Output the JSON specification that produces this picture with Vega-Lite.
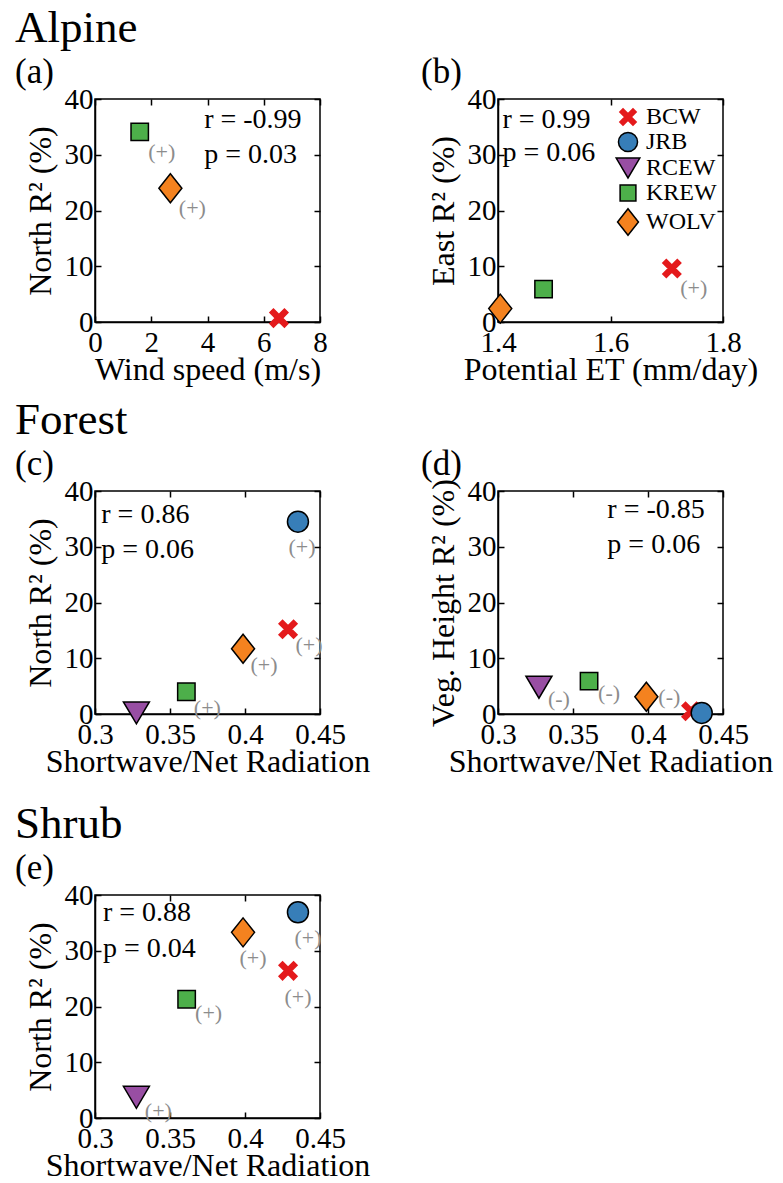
{
  "$schema": "https://vega.github.io/schema/vega-lite/v6.json",
  "padding": {"left": 14, "top": 4, "right": 0, "bottom": 0},
  "background": "white",
  "datasets": {
    "alpine_north": [
      {"site": "BCW", "wind_speed": 6.54, "r2": 0.7, "sign": null},
      {"site": "KREW", "wind_speed": 1.59, "r2": 34.1, "sign": "(+)"},
      {"site": "WOLV", "wind_speed": 2.68, "r2": 24.0, "sign": "(+)"}
    ],
    "alpine_east": [
      {"site": "BCW", "pet": 1.709, "r2": 9.6, "sign": "(+)"},
      {"site": "KREW", "pet": 1.481, "r2": 5.9, "sign": null},
      {"site": "WOLV", "pet": 1.404, "r2": 2.4, "sign": null}
    ],
    "forest_north": [
      {"site": "BCW", "sw_net": 0.4287, "r2": 15.2, "sign": "(+)"},
      {"site": "JRB", "sw_net": 0.4353, "r2": 34.5, "sign": "(+)"},
      {"site": "RCEW", "sw_net": 0.3276, "r2": 0.2, "sign": null},
      {"site": "KREW", "sw_net": 0.3609, "r2": 4.0, "sign": "(+)"},
      {"site": "WOLV", "sw_net": 0.3987, "r2": 11.7, "sign": "(+)"}
    ],
    "forest_veg": [
      {"site": "BCW", "sw_net": 0.4287, "r2": 0.5, "sign": null},
      {"site": "JRB", "sw_net": 0.4358, "r2": 0.2, "sign": null},
      {"site": "RCEW", "sw_net": 0.3273, "r2": 4.8, "sign": "(-)"},
      {"site": "KREW", "sw_net": 0.3607, "r2": 5.9, "sign": "(-)"},
      {"site": "WOLV", "sw_net": 0.3989, "r2": 3.1, "sign": "(-)"}
    ],
    "shrub_north": [
      {"site": "BCW", "sw_net": 0.4287, "r2": 26.4, "sign": "(+)"},
      {"site": "JRB", "sw_net": 0.4353, "r2": 36.9, "sign": "(+)"},
      {"site": "RCEW", "sw_net": 0.3276, "r2": 3.7, "sign": "(+)"},
      {"site": "KREW", "sw_net": 0.3611, "r2": 21.3, "sign": "(+)"},
      {"site": "WOLV", "sw_net": 0.3987, "r2": 33.3, "sign": "(+)"}
    ]
  },
  "config": {
    "font": "Liberation Serif, Times New Roman, serif",
    "view": {"stroke": "black", "strokeWidth": 1.5},
    "text": {"font": "Liberation Serif, Times New Roman, serif", "fontWeight": "normal"},
    "axis": {
      "grid": false, "domainColor": "black", "domainWidth": 1.5,
      "tickColor": "black", "tickWidth": 1.5, "tickSize": -6,
      "labelFont": "Liberation Serif, Times New Roman, serif", "labelFontSize": 29, "labelColor": "black", "labelFontWeight": "normal",
      "labelFlush": false, "labelOverlap": false, "labelBound": false,
      "titleFont": "Liberation Serif, Times New Roman, serif", "titleFontSize": 32, "titleFontWeight": "normal", "titleColor": "black"
    },
    "axisX": {"labelPadding": 12, "titlePadding": -3},
    "axisY": {"labelPadding": 8, "titlePadding": 7},
    "title": {
      "anchor": "start", "frame": "group", "font": "Liberation Serif, Times New Roman, serif", "fontSize": 45, "fontWeight": "normal", "color": "black",
      "subtitleFont": "Liberation Serif, Times New Roman, serif", "subtitleFontSize": 35, "subtitleFontWeight": "normal", "subtitleColor": "black", "subtitlePadding": 4, "offset": -4.5
    },
    "legend": {
      "labelFont": "Liberation Serif, Times New Roman, serif", "labelFontSize": 24, "labelColor": "black", "labelFontWeight": "normal",
      "symbolSize": 330, "symbolStrokeWidth": 1.5, "rowPadding": 0, "labelOffset": 6, "padding": 0
    }
  },
  "spacing": 22,
  "vconcat": [
    {
      "columns": 2,
      "bounds": "flush",
      "spacing": {"row": 169, "column": 178},
      "resolve": {"scale": {"fill": "independent", "shape": "independent", "stroke": "independent"}, "legend": {"fill": "independent", "shape": "independent", "stroke": "independent"}},
      "concat": [
        {
          "width": 225, "height": 223,
          "title": {"text": "Alpine", "subtitle": "(a)", "dx": -80},
          "data": {"name": "alpine_north"},
          "resolve": {"axis": {"x": "independent", "y": "independent"}},
          "layer": [
            {
              "mark": {"type": "point", "filled": true, "size": 400, "strokeWidth": 1.5, "opacity": 1},
              "encoding": {
                "x": {"field": "wind_speed", "type": "quantitative", "scale": {"domain": [0, 8], "nice": false}, "axis": {"values": [0, 2, 4, 6, 8], "title": "Wind speed (m/s)"}},
                "y": {"field": "r2", "type": "quantitative", "scale": {"domain": [0, 40], "nice": false}, "axis": {"values": [0, 10, 20, 30, 40], "title": "North R² (%)"}},
                "shape": {"field": "site", "type": "nominal", "scale": {"domain": ["BCW", "JRB", "RCEW", "KREW", "WOLV"], "range": ["M-0.9,-0.55L-0.55,-0.9L0,-0.35L0.55,-0.9L0.9,-0.55L0.35,0L0.9,0.55L0.55,0.9L0,0.35L-0.55,0.9L-0.9,0.55L-0.35,0Z", "M-1.05,0A1.05,1.05,0,1,0,1.05,0A1.05,1.05,0,1,0,-1.05,0Z", "M-1.3,-1.1L1.3,-1.1L0,1.1Z", "M-0.87,-0.87L0.87,-0.87L0.87,0.87L-0.87,0.87Z", "M0,-1.45L1.15,0L0,1.45L-1.15,0Z"]}, "legend": null},
                "fill": {"field": "site", "type": "nominal", "scale": {"domain": ["BCW", "JRB", "RCEW", "KREW", "WOLV"], "range": ["#e41a1c", "#377eb8", "#984ea3", "#4daf4a", "#f4821f"]}, "legend": null},
                "stroke": {"field": "site", "type": "nominal", "scale": {"domain": ["BCW", "JRB", "RCEW", "KREW", "WOLV"], "range": ["#e41a1c", "#000000", "#000000", "#000000", "#000000"]}, "legend": null}
              }
            },
            {
              "transform": [{"filter": {"field": "site", "oneOf": ["KREW", "WOLV"]}}],
              "mark": {"type": "text", "fontSize": 22, "fontWeight": "normal", "color": "#8c8c8c", "dx": 22, "dy": 20},
              "encoding": {
                "x": {"field": "wind_speed", "type": "quantitative", "axis": {"orient": "top", "labels": false, "title": null, "domain": false, "values": [0, 2, 4, 6, 8]}},
                "y": {"field": "r2", "type": "quantitative", "axis": {"orient": "right", "labels": false, "title": null, "domain": false, "values": [0, 10, 20, 30, 40]}},
                "text": {"field": "sign"}
              }
            },
            {
              "data": {"values": [{}]},
              "mark": {"type": "text", "fontSize": 28, "fontWeight": "normal", "align": "left", "baseline": "middle", "text": "r = -0.99"},
              "encoding": {"x": {"datum": 3.88, "type": "quantitative", "axis": null}, "y": {"datum": 36.2, "type": "quantitative", "axis": null}}
            },
            {
              "data": {"values": [{}]},
              "mark": {"type": "text", "fontSize": 28, "fontWeight": "normal", "align": "left", "baseline": "middle", "text": "p = 0.03"},
              "encoding": {"x": {"datum": 3.88, "type": "quantitative", "axis": null}, "y": {"datum": 29.9, "type": "quantitative", "axis": null}}
            }
          ]
        },
        {
          "width": 225, "height": 223,
          "title": {"text": " ", "subtitle": "(b)", "dx": -77},
          "data": {"name": "alpine_east"},
          "resolve": {"axis": {"x": "independent", "y": "independent"}},
          "layer": [
            {
              "mark": {"type": "point", "filled": true, "size": 400, "strokeWidth": 1.5, "opacity": 1},
              "encoding": {
                "x": {"field": "pet", "type": "quantitative", "scale": {"domain": [1.4, 1.8], "nice": false, "zero": false}, "axis": {"values": [1.4, 1.6, 1.8], "format": "~g", "title": "Potential ET (mm/day)"}},
                "y": {"field": "r2", "type": "quantitative", "scale": {"domain": [0, 40], "nice": false}, "axis": {"values": [0, 10, 20, 30, 40], "title": "East R² (%)"}},
                "shape": {"field": "site", "type": "nominal", "scale": {"domain": ["BCW", "JRB", "RCEW", "KREW", "WOLV"], "range": ["M-0.9,-0.55L-0.55,-0.9L0,-0.35L0.55,-0.9L0.9,-0.55L0.35,0L0.9,0.55L0.55,0.9L0,0.35L-0.55,0.9L-0.9,0.55L-0.35,0Z", "M-1.05,0A1.05,1.05,0,1,0,1.05,0A1.05,1.05,0,1,0,-1.05,0Z", "M-1.3,-1.1L1.3,-1.1L0,1.1Z", "M-0.87,-0.87L0.87,-0.87L0.87,0.87L-0.87,0.87Z", "M0,-1.45L1.15,0L0,1.45L-1.15,0Z"]}, "legend": {"orient": "top-right", "offset": 6, "title": null}},
                "fill": {"field": "site", "type": "nominal", "scale": {"domain": ["BCW", "JRB", "RCEW", "KREW", "WOLV"], "range": ["#e41a1c", "#377eb8", "#984ea3", "#4daf4a", "#f4821f"]}, "legend": {"orient": "top-right", "offset": 6, "title": null}},
                "stroke": {"field": "site", "type": "nominal", "scale": {"domain": ["BCW", "JRB", "RCEW", "KREW", "WOLV"], "range": ["#e41a1c", "#000000", "#000000", "#000000", "#000000"]}, "legend": {"orient": "top-right", "offset": 6, "title": null}}
              }
            },
            {
              "transform": [{"filter": {"field": "site", "oneOf": ["BCW"]}}],
              "mark": {"type": "text", "fontSize": 22, "fontWeight": "normal", "color": "#8c8c8c", "dx": 22, "dy": 20},
              "encoding": {
                "x": {"field": "pet", "type": "quantitative", "axis": {"orient": "top", "labels": false, "title": null, "domain": false, "values": [1.4, 1.6, 1.8]}},
                "y": {"field": "r2", "type": "quantitative", "axis": {"orient": "right", "labels": false, "title": null, "domain": false, "values": [0, 10, 20, 30, 40]}},
                "text": {"field": "sign"}
              }
            },
            {
              "data": {"values": [{}]},
              "mark": {"type": "text", "fontSize": 28, "fontWeight": "normal", "align": "left", "baseline": "middle", "text": "r = 0.99"},
              "encoding": {"x": {"datum": 1.408, "type": "quantitative", "axis": null}, "y": {"datum": 36.2, "type": "quantitative", "axis": null}}
            },
            {
              "data": {"values": [{}]},
              "mark": {"type": "text", "fontSize": 28, "fontWeight": "normal", "align": "left", "baseline": "middle", "text": "p = 0.06"},
              "encoding": {"x": {"datum": 1.408, "type": "quantitative", "axis": null}, "y": {"datum": 30.4, "type": "quantitative", "axis": null}}
            }
          ]
        },
        {
          "width": 225, "height": 223,
          "title": {"text": "Forest", "subtitle": "(c)", "dx": -80},
          "data": {"name": "forest_north"},
          "resolve": {"axis": {"x": "independent", "y": "independent"}},
          "layer": [
            {
              "mark": {"type": "point", "filled": true, "size": 400, "strokeWidth": 1.5, "opacity": 1},
              "encoding": {
                "x": {"field": "sw_net", "type": "quantitative", "scale": {"domain": [0.3, 0.45], "nice": false, "zero": false}, "axis": {"values": [0.3, 0.35, 0.4, 0.45], "format": "~g", "title": "Shortwave/Net Radiation"}},
                "y": {"field": "r2", "type": "quantitative", "scale": {"domain": [0, 40], "nice": false}, "axis": {"values": [0, 10, 20, 30, 40], "title": "North R² (%)"}},
                "shape": {"field": "site", "type": "nominal", "scale": {"domain": ["BCW", "JRB", "RCEW", "KREW", "WOLV"], "range": ["M-0.9,-0.55L-0.55,-0.9L0,-0.35L0.55,-0.9L0.9,-0.55L0.35,0L0.9,0.55L0.55,0.9L0,0.35L-0.55,0.9L-0.9,0.55L-0.35,0Z", "M-1.05,0A1.05,1.05,0,1,0,1.05,0A1.05,1.05,0,1,0,-1.05,0Z", "M-1.3,-1.1L1.3,-1.1L0,1.1Z", "M-0.87,-0.87L0.87,-0.87L0.87,0.87L-0.87,0.87Z", "M0,-1.45L1.15,0L0,1.45L-1.15,0Z"]}, "legend": null},
                "fill": {"field": "site", "type": "nominal", "scale": {"domain": ["BCW", "JRB", "RCEW", "KREW", "WOLV"], "range": ["#e41a1c", "#377eb8", "#984ea3", "#4daf4a", "#f4821f"]}, "legend": null},
                "stroke": {"field": "site", "type": "nominal", "scale": {"domain": ["BCW", "JRB", "RCEW", "KREW", "WOLV"], "range": ["#e41a1c", "#000000", "#000000", "#000000", "#000000"]}, "legend": null}
              }
            },
            {
              "transform": [{"filter": {"field": "site", "oneOf": ["KREW", "WOLV", "BCW"]}}],
              "mark": {"type": "text", "fontSize": 22, "fontWeight": "normal", "color": "#8c8c8c", "dx": 21, "dy": 16},
              "encoding": {
                "x": {"field": "sw_net", "type": "quantitative", "axis": {"orient": "top", "labels": false, "title": null, "domain": false, "values": [0.3, 0.35, 0.4, 0.45]}},
                "y": {"field": "r2", "type": "quantitative", "axis": {"orient": "right", "labels": false, "title": null, "domain": false, "values": [0, 10, 20, 30, 40]}},
                "text": {"field": "sign"}
              }
            },
            {
              "transform": [{"filter": {"field": "site", "oneOf": ["JRB"]}}],
              "mark": {"type": "text", "fontSize": 22, "fontWeight": "normal", "color": "#8c8c8c", "dx": 4, "dy": 25},
              "encoding": {
                "x": {"field": "sw_net", "type": "quantitative", "axis": null},
                "y": {"field": "r2", "type": "quantitative", "axis": null},
                "text": {"field": "sign"}
              }
            },
            {
              "data": {"values": [{}]},
              "mark": {"type": "text", "fontSize": 28, "fontWeight": "normal", "align": "left", "baseline": "middle", "text": "r = 0.86"},
              "encoding": {"x": {"datum": 0.3042, "type": "quantitative", "axis": null}, "y": {"datum": 35.7, "type": "quantitative", "axis": null}}
            },
            {
              "data": {"values": [{}]},
              "mark": {"type": "text", "fontSize": 28, "fontWeight": "normal", "align": "left", "baseline": "middle", "text": "p = 0.06"},
              "encoding": {"x": {"datum": 0.3042, "type": "quantitative", "axis": null}, "y": {"datum": 29.5, "type": "quantitative", "axis": null}}
            }
          ]
        },
        {
          "width": 225, "height": 223,
          "title": {"text": " ", "subtitle": "(d)", "dx": -77},
          "data": {"name": "forest_veg"},
          "resolve": {"axis": {"x": "independent", "y": "independent"}},
          "layer": [
            {
              "mark": {"type": "point", "filled": true, "size": 400, "strokeWidth": 1.5, "opacity": 1},
              "encoding": {
                "x": {"field": "sw_net", "type": "quantitative", "scale": {"domain": [0.3, 0.45], "nice": false, "zero": false}, "axis": {"values": [0.3, 0.35, 0.4, 0.45], "format": "~g", "title": "Shortwave/Net Radiation"}},
                "y": {"field": "r2", "type": "quantitative", "scale": {"domain": [0, 40], "nice": false}, "axis": {"values": [0, 10, 20, 30, 40], "title": "Veg. Height R² (%)"}},
                "shape": {"field": "site", "type": "nominal", "scale": {"domain": ["BCW", "JRB", "RCEW", "KREW", "WOLV"], "range": ["M-0.9,-0.55L-0.55,-0.9L0,-0.35L0.55,-0.9L0.9,-0.55L0.35,0L0.9,0.55L0.55,0.9L0,0.35L-0.55,0.9L-0.9,0.55L-0.35,0Z", "M-1.05,0A1.05,1.05,0,1,0,1.05,0A1.05,1.05,0,1,0,-1.05,0Z", "M-1.3,-1.1L1.3,-1.1L0,1.1Z", "M-0.87,-0.87L0.87,-0.87L0.87,0.87L-0.87,0.87Z", "M0,-1.45L1.15,0L0,1.45L-1.15,0Z"]}, "legend": null},
                "fill": {"field": "site", "type": "nominal", "scale": {"domain": ["BCW", "JRB", "RCEW", "KREW", "WOLV"], "range": ["#e41a1c", "#377eb8", "#984ea3", "#4daf4a", "#f4821f"]}, "legend": null},
                "stroke": {"field": "site", "type": "nominal", "scale": {"domain": ["BCW", "JRB", "RCEW", "KREW", "WOLV"], "range": ["#e41a1c", "#000000", "#000000", "#000000", "#000000"]}, "legend": null}
              }
            },
            {
              "transform": [{"filter": {"field": "site", "oneOf": ["RCEW", "KREW"]}}],
              "mark": {"type": "text", "fontSize": 22, "fontWeight": "normal", "color": "#8c8c8c", "dx": 20, "dy": 12},
              "encoding": {
                "x": {"field": "sw_net", "type": "quantitative", "axis": {"orient": "top", "labels": false, "title": null, "domain": false, "values": [0.3, 0.35, 0.4, 0.45]}},
                "y": {"field": "r2", "type": "quantitative", "axis": {"orient": "right", "labels": false, "title": null, "domain": false, "values": [0, 10, 20, 30, 40]}},
                "text": {"field": "sign"}
              }
            },
            {
              "transform": [{"filter": {"field": "site", "oneOf": ["WOLV"]}}],
              "mark": {"type": "text", "fontSize": 22, "fontWeight": "normal", "color": "#8c8c8c", "dx": 23, "dy": 0},
              "encoding": {
                "x": {"field": "sw_net", "type": "quantitative", "axis": null},
                "y": {"field": "r2", "type": "quantitative", "axis": null},
                "text": {"field": "sign"}
              }
            },
            {
              "data": {"values": [{}]},
              "mark": {"type": "text", "fontSize": 28, "fontWeight": "normal", "align": "left", "baseline": "middle", "text": "r = -0.85"},
              "encoding": {"x": {"datum": 0.3729, "type": "quantitative", "axis": null}, "y": {"datum": 36.6, "type": "quantitative", "axis": null}}
            },
            {
              "data": {"values": [{}]},
              "mark": {"type": "text", "fontSize": 28, "fontWeight": "normal", "align": "left", "baseline": "middle", "text": "p = 0.06"},
              "encoding": {"x": {"datum": 0.3729, "type": "quantitative", "axis": null}, "y": {"datum": 30.3, "type": "quantitative", "axis": null}}
            }
          ]
        }
      ]
    },
    {
      "width": 225, "height": 223,
      "title": {"text": "Shrub", "subtitle": "(e)", "dx": -80},
      "data": {"name": "shrub_north"},
      "resolve": {"axis": {"x": "independent", "y": "independent"}},
      "layer": [
        {
          "mark": {"type": "point", "filled": true, "size": 400, "strokeWidth": 1.5, "opacity": 1},
          "encoding": {
            "x": {"field": "sw_net", "type": "quantitative", "scale": {"domain": [0.3, 0.45], "nice": false, "zero": false}, "axis": {"values": [0.3, 0.35, 0.4, 0.45], "format": "~g", "title": "Shortwave/Net Radiation"}},
            "y": {"field": "r2", "type": "quantitative", "scale": {"domain": [0, 40], "nice": false}, "axis": {"values": [0, 10, 20, 30, 40], "title": "North R² (%)"}},
            "shape": {"field": "site", "type": "nominal", "scale": {"domain": ["BCW", "JRB", "RCEW", "KREW", "WOLV"], "range": ["M-0.9,-0.55L-0.55,-0.9L0,-0.35L0.55,-0.9L0.9,-0.55L0.35,0L0.9,0.55L0.55,0.9L0,0.35L-0.55,0.9L-0.9,0.55L-0.35,0Z", "M-1.05,0A1.05,1.05,0,1,0,1.05,0A1.05,1.05,0,1,0,-1.05,0Z", "M-1.3,-1.1L1.3,-1.1L0,1.1Z", "M-0.87,-0.87L0.87,-0.87L0.87,0.87L-0.87,0.87Z", "M0,-1.45L1.15,0L0,1.45L-1.15,0Z"]}, "legend": null},
            "fill": {"field": "site", "type": "nominal", "scale": {"domain": ["BCW", "JRB", "RCEW", "KREW", "WOLV"], "range": ["#e41a1c", "#377eb8", "#984ea3", "#4daf4a", "#f4821f"]}, "legend": null},
            "stroke": {"field": "site", "type": "nominal", "scale": {"domain": ["BCW", "JRB", "RCEW", "KREW", "WOLV"], "range": ["#e41a1c", "#000000", "#000000", "#000000", "#000000"]}, "legend": null}
          }
        },
        {
          "transform": [{"filter": {"field": "site", "oneOf": ["RCEW", "KREW"]}}],
          "mark": {"type": "text", "fontSize": 22, "fontWeight": "normal", "color": "#8c8c8c", "dx": 22, "dy": 14},
          "encoding": {
            "x": {"field": "sw_net", "type": "quantitative", "axis": {"orient": "top", "labels": false, "title": null, "domain": false, "values": [0.3, 0.35, 0.4, 0.45]}},
            "y": {"field": "r2", "type": "quantitative", "axis": {"orient": "right", "labels": false, "title": null, "domain": false, "values": [0, 10, 20, 30, 40]}},
            "text": {"field": "sign"}
          }
        },
        {
          "transform": [{"filter": {"field": "site", "oneOf": ["WOLV", "BCW", "JRB"]}}],
          "mark": {"type": "text", "fontSize": 22, "fontWeight": "normal", "color": "#8c8c8c", "dx": 10, "dy": 26},
          "encoding": {
            "x": {"field": "sw_net", "type": "quantitative", "axis": null},
            "y": {"field": "r2", "type": "quantitative", "axis": null},
            "text": {"field": "sign"}
          }
        },
        {
          "data": {"values": [{}]},
          "mark": {"type": "text", "fontSize": 28, "fontWeight": "normal", "align": "left", "baseline": "middle", "text": "r = 0.88"},
          "encoding": {"x": {"datum": 0.3053, "type": "quantitative", "axis": null}, "y": {"datum": 36.7, "type": "quantitative", "axis": null}}
        },
        {
          "data": {"values": [{}]},
          "mark": {"type": "text", "fontSize": 28, "fontWeight": "normal", "align": "left", "baseline": "middle", "text": "p = 0.04"},
          "encoding": {"x": {"datum": 0.3053, "type": "quantitative", "axis": null}, "y": {"datum": 30.4, "type": "quantitative", "axis": null}}
        }
      ]
    }
  ],
  "resolve": {"scale": {"fill": "independent", "shape": "independent", "stroke": "independent"}, "legend": {"fill": "independent", "shape": "independent", "stroke": "independent"}}
}
